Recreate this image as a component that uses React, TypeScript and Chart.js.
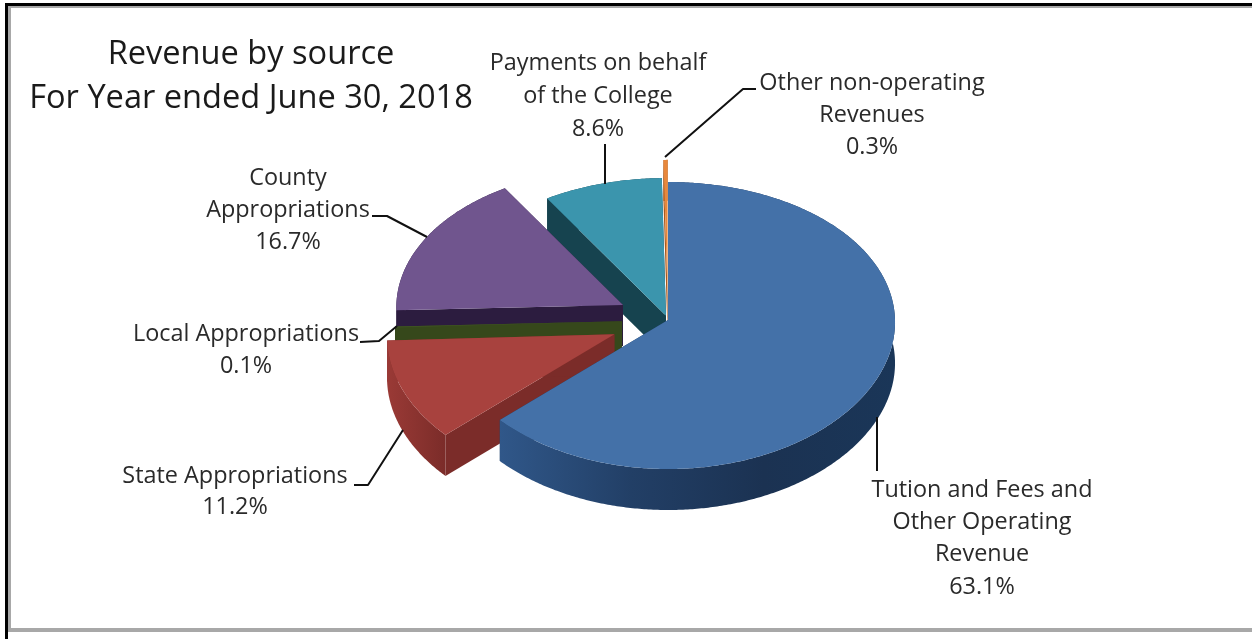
import React, { useEffect, useRef } from "react";
import { Chart, registerables } from "chart.js";

Chart.register(...registerables);

const categories = [
  "Tution and Fees and Other Operating Revenue",
  "State Appropriations",
  "Local Appropriations",
  "County Appropriations",
  "Payments on behalf of the College",
  "Other non-operating Revenues",
];
const shares = [63.1, 11.2, 0.1, 16.7, 8.6, 0.3];
const topColors = ["#4471a8", "#a8423e", "#3f5422", "#70558e", "#3b95ad", "#e8883c"];
const radialWallColors = ["#1d3a5e", "#7b2c29", "#36481b", "#2c1c3f", "#16434f", "#a85a20"];
const outerWallStops = [
  ["#305789", "#223f66", "#1b3252", "#1a3658"],
  ["#9a3a36", "#7b2c29"],
  ["#36481b", "#36481b"],
  ["#2c1c3f", "#2c1c3f"],
  ["#16434f", "#16434f"],
  ["#a85a20", "#a85a20"],
];
const explode = [0, 58, 46, 51, 7, 38];
const drawOrder = [5, 4, 3, 2, 1, 0];

const labelLines = [
  ["Tution and Fees and", "Other Operating", "Revenue", "63.1%"],
  ["State Appropriations", "11.2%"],
  ["Local Appropriations", "0.1%"],
  ["County", "Appropriations", "16.7%"],
  ["Payments on behalf", "of the College", "8.6%"],
  ["Other non-operating", "Revenues", "0.3%"],
];
const titleLines = ["Revenue by source", "For Year ended June 30, 2018"];
const FONT = '"Open Sans", sans-serif';

const pie3d = {
  id: "pie3d",
  beforeDraw(chart: any) {
    const c = chart.ctx;
    c.save();
    c.fillStyle = "#ffffff";
    c.fillRect(0, 0, chart.width, chart.height);
    c.fillStyle = "#a8a8a8";
    c.fillRect(8, 6, 3, 625);
    c.fillRect(8, 6, chart.width - 8, 2);
    c.fillRect(8, 628, chart.width - 8, 4);
    c.fillStyle = "#000000";
    c.fillRect(5, 3, 3, chart.height - 3);
    c.fillRect(5, 3, chart.width - 5, 3);
    c.restore();
  },
  beforeDatasetsDraw(chart: any) {
    const c = chart.ctx;
    const meta = chart.getDatasetMeta(0);
    const squash = 143.3 / 227;
    const perspY = 0.0383;
    const perspX = 0.015;
    const depth = 41;
    const project = (el: any, mid: number, off: number, r: number, a: number) => {
      const R = el.outerRadius;
      const u = off * Math.cos(mid) + r * Math.cos(a);
      const v = off * Math.sin(mid) + r * Math.sin(a);
      return [el.x + u / (1 - (perspX * v) / R), el.y + (squash * v) / (1 - (perspY * v) / R)];
    };
    c.save();
    for (const i of drawOrder) {
      const el = meta.data[i];
      const off = el.options.offset;
      const { startAngle: s, endAngle: e, outerRadius: R } = el;
      const mid = (s + e) / 2;
      const steps = Math.max(2, Math.ceil((e - s) / 0.01));
      const rim: number[][] = [];
      for (let k = 0; k <= steps; k++) rim.push(project(el, mid, off, R, s + ((e - s) * k) / steps));
      const apex = project(el, mid, off, 0, 0);

      // radial walls
      c.fillStyle = radialWallColors[i];
      for (const p of [rim[0], rim[rim.length - 1]]) {
        c.beginPath();
        c.moveTo(apex[0], apex[1]);
        c.lineTo(p[0], p[1]);
        c.lineTo(p[0], p[1] + depth);
        c.lineTo(apex[0], apex[1] + depth);
        c.closePath();
        c.fill();
      }
      // outer wall
      const xs = rim.map((p) => p[0]);
      const x0 = Math.min(...xs);
      const x1 = Math.max(...xs);
      const g = c.createLinearGradient(x0, 0, Math.max(x1, x0 + 1), 0);
      const stops = outerWallStops[i];
      stops.forEach((col: string, k: number) => g.addColorStop(k / (stops.length - 1), col));
      c.fillStyle = g;
      c.beginPath();
      rim.forEach((p, k) => (k ? c.lineTo(p[0], p[1]) : c.moveTo(p[0], p[1])));
      for (let k = rim.length - 1; k >= 0; k--) c.lineTo(rim[k][0], rim[k][1] + depth);
      c.closePath();
      c.fill();
      // top face
      c.fillStyle = el.options.backgroundColor;
      c.beginPath();
      c.moveTo(apex[0], apex[1]);
      rim.forEach((p) => c.lineTo(p[0], p[1]));
      c.closePath();
      c.fill();
    }
    c.restore();

    // leader lines
    const leaders = [
      [[877, 417], [877, 471]],
      [[354, 485], [368, 485], [403, 430]],
      [[360, 342], [379, 341], [397, 326]],
      [[372, 216], [387, 216], [427, 237]],
      [[605, 144], [605, 184]],
      [[665, 157], [743, 89], [756, 89]],
    ];
    c.save();
    c.strokeStyle = "#111111";
    c.lineWidth = 2;
    c.lineJoin = "round";
    for (const pts of leaders) {
      c.beginPath();
      pts.forEach((p, k) => (k ? c.lineTo(p[0], p[1]) : c.moveTo(p[0], p[1])));
      c.stroke();
    }
    // labels
    const anchors = [
      [982, 490, 32.4],
      [235, 476, 31],
      [246, 334, 32],
      [288, 178, 32],
      [598, 63, 33],
      [872, 83, 32],
    ];
    c.fillStyle = "#2a2a2a";
    c.textAlign = "center";
    c.textBaseline = "middle";
    c.font = `23.4px ${FONT}`;
    labelLines.forEach((lines, i) => {
      const [x, y, lh] = anchors[i];
      lines.forEach((t, k) => c.fillText(t, x, y + k * lh));
    });
    c.font = `32.6px ${FONT}`;
    c.fillStyle = "#1a1a1a";
    c.fillText(titleLines[0], 251, 55);
    c.fillText(titleLines[1], 251, 99);
    c.restore();
    return false;
  },
};

export default function App() {
  const ref = useRef<HTMLCanvasElement>(null);
  useEffect(() => {
    document.body.style.margin = "0";
    const chart = new Chart(ref.current as HTMLCanvasElement, {
      type: "pie",
      data: {
        labels: categories,
        datasets: [{ data: shares, backgroundColor: topColors, borderWidth: 0, offset: explode }],
      },
      options: {
        animation: false,
        responsive: false,
        radius: 227,
        layout: { padding: { left: 84, top: 1 } },
        plugins: { legend: { display: false }, tooltip: { enabled: false } },
      } as any,
      plugins: [pie3d],
    } as any);
    return () => chart.destroy();
  }, []);
  return <canvas ref={ref} width={1252} height={639} style={{ display: "block", filter: "blur(0.5px)" }} />;
}
